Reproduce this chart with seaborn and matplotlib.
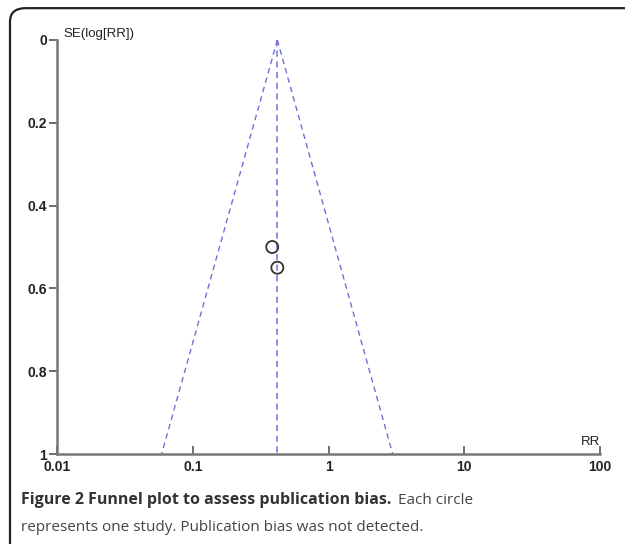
import matplotlib
matplotlib.use("Agg")

import matplotlib.pyplot as plt
from matplotlib.patches import FancyBboxPatch
import pandas as pd
import seaborn as sns

# estudos (RR e erro padrão do log RR)
study_rr = [0.385, 0.42]
study_se = [0.50, 0.55]

# efeito combinado e limites do funil
pooled_rr = [0.42, 0.42]
funnel_se = [0.0, 1.0]
funnel_lower = [0.42, 0.059]
funnel_upper = [0.42, 2.97]

x_ticks = [0.01, 0.1, 1, 10, 100]
x_labels = ["0.01", "0.1", "1", "10", "100"]
y_ticks = [0, 0.2, 0.4, 0.6, 0.8, 1]
y_labels = ["0", "0.2", "0.4", "0.6", "0.8", "1"]

sns.set_theme(style="white")
plt.rcParams["font.family"] = ["Liberation Sans Narrow", "Liberation Sans", "DejaVu Sans"]

fig = plt.figure(figsize=(6.25, 5.44), dpi=100)
ax = fig.add_axes([0.0912, 0.1654, 0.8688, 0.7611])

# moldura arredondada da figura
frame = FancyBboxPatch((0.016, -0.05), 1.2, 1.035, boxstyle="round,pad=0,rounding_size=0.025",
                       transform=fig.transFigure, fill=False, edgecolor="#222222",
                       linewidth=1.6, clip_on=False)
fig.patches.append(frame)

dash_color = "#7070d8"
ax.plot(funnel_lower, funnel_se, color=dash_color, lw=1.0, dashes=(4, 3))
ax.plot(funnel_upper, funnel_se, color=dash_color, lw=1.0, dashes=(4, 3))
ax.plot(pooled_rr, funnel_se, color=dash_color, lw=1.1, dashes=(4, 3))

df = pd.DataFrame({"rr": study_rr, "se": study_se})
sns.scatterplot(data=df, x="rr", y="se", ax=ax, marker="o", s=75,
                facecolor="none", edgecolor="#333333", linewidth=1.3, zorder=5)

ax.set_xscale("log")
ax.set_xlim(0.01, 100)
ax.set_ylim(1, 0)
ax.set_xticks(x_ticks)
ax.set_xticklabels(x_labels)
ax.set_yticks(y_ticks)
ax.set_yticklabels(y_labels)
ax.minorticks_off()
ax.set_xlabel("")
ax.set_ylabel("")

for s in ["top", "right"]:
    ax.spines[s].set_visible(False)
for s in ["left", "bottom"]:
    ax.spines[s].set_color("#777777")
    ax.spines[s].set_linewidth(1.8)

ax.tick_params(axis="y", left=True, direction="out", length=6, width=1.2,
               color="#555555", labelsize=10, pad=1)
ax.tick_params(axis="x", bottom=True, direction="in", length=6, width=1.2,
               color="#555555", labelsize=10, pad=4.5)
for lab in ax.get_xticklabels() + ax.get_yticklabels():
    lab.set_fontweight("bold")
    lab.set_color("#222222")

ax.text(0.012, 1.0, "SE(log[RR])", transform=ax.transAxes, fontsize=9.5,
        color="#222222", va="bottom", ha="left")
ax.text(1.0, 0.015, "RR", transform=ax.transAxes, fontsize=9.5,
        color="#222222", va="bottom", ha="right")

# legenda da figura
cap_font = ["Open Sans", "DejaVu Sans"]
t1 = fig.text(0.0336, 0.074, "Figure 2 Funnel plot to assess publication bias.",
              fontsize=11.5, fontweight="bold", color="#333333", family=cap_font)
fig.canvas.draw()
bb = t1.get_window_extent().transformed(fig.transFigure.inverted())
fig.text(bb.x1 + 0.011, 0.074, "Each circle", fontsize=11, color="#444444", family=cap_font)
fig.text(0.0336, 0.024, "represents one study. Publication bias was not detected.",
         fontsize=11, color="#444444", family=cap_font)

fig.savefig("out.png", dpi=100)
